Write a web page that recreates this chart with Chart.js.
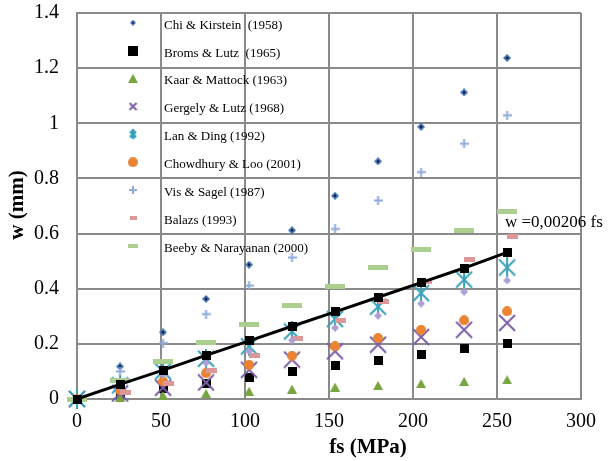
<!DOCTYPE html>
<html>
<head>
<meta charset="utf-8">
<script src="https://cdn.jsdelivr.net/npm/chart.js@4.4.1/dist/chart.umd.min.js"></script>
<style>
    html, body { margin: 0; padding: 0; background: #fff; }
    #wrap { width: 611px; height: 461px; }
</style>
</head>
<body>
<div id="wrap"><canvas id="crackChart" width="611" height="461"></canvas></div>
<script>
// Steel stress fs (MPa) where the predictions were evaluated
const fsValues = [0, 25.6, 51.2, 76.8, 102.4, 128, 153.6, 179.2, 204.8, 230.4, 256];
const balazsFs = [28.6, 54.2, 79.8, 105.4, 131, 156.6, 182.2, 207.8, 233.4, 259];

// Crack width w (mm)
const chiKirstein = [0, 0.118, 0.242, 0.363, 0.487, 0.612, 0.737, 0.862, 0.987, 1.112, 1.237];
const bromsLutz   = [0, 0.018, 0.037, 0.058, 0.078, 0.1, 0.121, 0.14, 0.161, 0.182, 0.202];
const kaarMattock = [0, 0.007, 0.013, 0.02, 0.028, 0.036, 0.043, 0.049, 0.056, 0.064, 0.07];
const gergelyLutz = [0, 0.02, 0.041, 0.06, 0.106, 0.143, 0.173, 0.197, 0.225, 0.251, 0.276];
const lanDing     = [0, 0.05, 0.1, 0.146, 0.191, 0.245, 0.29, 0.335, 0.384, 0.433, 0.477];
const chowdhury   = [0, 0.031, 0.064, 0.094, 0.124, 0.157, 0.191, 0.221, 0.251, 0.285, 0.318];
const visSagel    = [0, 0.1, 0.203, 0.308, 0.411, 0.513, 0.617, 0.72, 0.823, 0.926, 1.029];
const balazs      = [0.023, 0.058, 0.104, 0.157, 0.218, 0.285, 0.354, 0.427, 0.505, 0.59];
const beeby       = [0, 0.068, 0.136, 0.204, 0.272, 0.34, 0.408, 0.476, 0.544, 0.612, 0.679];
const otherModel  = [0, 0.044, 0.088, 0.131, 0.173, 0.213, 0.258, 0.302, 0.346, 0.389, 0.43];
const fitted      = [0, 0.053, 0.105, 0.158, 0.211, 0.264, 0.316, 0.369, 0.422, 0.475, 0.532];

const seriesLabels = [
    'Chi & Kirstein  (1958)', 'Broms & Lutz  (1965)', 'Kaar & Mattock (1963)',
    'Gergely & Lutz (1968)', 'Lan & Ding (1992)', 'Chowdhury & Loo (2001)',
    'Vis & Sagel (1987)', 'Balazs (1993)', 'Beeby & Narayanan (2000)'
];
const yTicks = [0, 0.2, 0.4, 0.6, 0.8, 1, 1.2, 1.4];
const fitLabel = 'w =0,00206 fs';

const FONT = '"Liberation Serif", "Times New Roman", serif';
const GRID = '#8a8a8a';

// Marker images (Excel style)
function marker(w, h, draw) {
    const c = document.createElement('canvas');
    c.width = w; c.height = h;
    draw(c.getContext('2d'), w, h);
    return c;
}
function diamond(s, fill, dot) {
    return marker(s, s, (ctx) => {
        ctx.fillStyle = fill;
        ctx.beginPath();
        ctx.moveTo(s / 2, 0); ctx.lineTo(s, s / 2); ctx.lineTo(s / 2, s); ctx.lineTo(0, s / 2);
        ctx.closePath(); ctx.fill();
        if (dot) {
            ctx.fillStyle = dot;
            ctx.beginPath(); ctx.arc(s / 2, s / 2, s / 7, 0, Math.PI * 2); ctx.fill();
        }
    });
}
function square(s, fill) {
    return marker(s, s, (ctx) => { ctx.fillStyle = fill; ctx.fillRect(0, 0, s, s); });
}
function triangle(w, h, fill) {
    return marker(w, h, (ctx) => {
        ctx.fillStyle = fill;
        ctx.beginPath(); ctx.moveTo(w / 2, 0); ctx.lineTo(w, h); ctx.lineTo(0, h); ctx.closePath(); ctx.fill();
    });
}
function cross(s, color, lw) {
    return marker(s, s, (ctx) => {
        ctx.strokeStyle = color; ctx.lineWidth = lw;
        ctx.beginPath();
        ctx.moveTo(1, 1); ctx.lineTo(s - 1, s - 1);
        ctx.moveTo(s - 1, 1); ctx.lineTo(1, s - 1);
        ctx.stroke();
    });
}
function asterisk(s, color, lw) {
    return marker(s, s + 2, (ctx) => {
        ctx.strokeStyle = color; ctx.lineWidth = lw;
        ctx.beginPath();
        ctx.moveTo(1, 2); ctx.lineTo(s - 1, s);
        ctx.moveTo(s - 1, 2); ctx.lineTo(1, s);
        ctx.moveTo(s / 2, 0); ctx.lineTo(s / 2, s + 2);
        ctx.stroke();
    });
}
function circle(s, fill) {
    return marker(s, s, (ctx) => {
        ctx.fillStyle = fill;
        ctx.beginPath(); ctx.arc(s / 2, s / 2, s / 2, 0, Math.PI * 2); ctx.fill();
    });
}
function plus(s, color, lw) {
    return marker(s, s, (ctx) => {
        ctx.strokeStyle = color; ctx.lineWidth = lw;
        ctx.beginPath();
        ctx.moveTo(0, s / 2); ctx.lineTo(s, s / 2);
        ctx.moveTo(s / 2, 0); ctx.lineTo(s / 2, s);
        ctx.stroke();
    });
}
function dash(w, h, fill) {
    return marker(w, h, (ctx) => { ctx.fillStyle = fill; ctx.fillRect(0, 0, w, h); });
}

const colors = {
    chi: '#3f6fb6', broms: '#000000', kaar: '#78a540', gergely: '#7d5fa8',
    lan: '#38a2bb', chow: '#ea8433', vis: '#8eaadc', balazs: '#dc9898',
    beeby: '#aacf8f', other: '#ad9fd3'
};

const chartMarkers = [
    diamond(8, colors.chi, '#111'), square(9, colors.broms), triangle(10, 9, colors.kaar),
    cross(18, colors.gergely, 2), asterisk(18, colors.lan, 2), circle(10, colors.chow),
    plus(9, colors.vis, 2), dash(11, 5, colors.balazs), dash(20, 5, colors.beeby)
];
const legendMarkers = [
    diamond(6, colors.chi, '#111'), square(10, colors.broms), triangle(10, 9, colors.kaar),
    cross(9, colors.gergely, 2), asterisk(8, colors.lan, 2.5), circle(10, colors.chow),
    plus(8, colors.vis, 2), dash(7, 4, colors.balazs), dash(10, 4, colors.beeby)
];

function points(xs, ys) {
    return ys.map((y, i) => ({ x: xs[i], y: y }));
}

const seriesValues = [chiKirstein, bromsLutz, kaarMattock, gergelyLutz, lanDing, chowdhury, visSagel, balazs, beeby];

const datasets = seriesValues.map((vals, i) => ({
    label: seriesLabels[i],
    data: points(i === 7 ? balazsFs : fsValues, vals),
    pointStyle: chartMarkers[i],
    pointRadius: 5,
    showLine: false,
    clip: false,
    order: 20 - i
}));

datasets.push({
    label: 'other',
    data: points(fsValues, otherModel),
    pointStyle: diamond(8, colors.other),
    pointRadius: 5,
    showLine: false,
    clip: false,
    order: 5
});

datasets.push({
    label: 'fit',
    data: points(fsValues, fitted),
    pointStyle: square(9, '#000'),
    pointRadius: 5,
    showLine: true,
    borderColor: '#000',
    borderWidth: 3,
    clip: false,
    order: 0
});

// Legend inside the plot, axis titles and fit label
const overlayPlugin = {
    id: 'overlay',
    afterDraw(chart) {
        const ctx = chart.ctx;
        ctx.save();
        ctx.fillStyle = '#000';

        // legend
        ctx.font = '13px ' + FONT;
        ctx.textBaseline = 'middle';
        ctx.textAlign = 'left';
        seriesLabels.forEach((label, i) => {
            const y = 22.7 + i * 27.9;
            const m = legendMarkers[i];
            ctx.drawImage(m, 133 - m.width / 2, y - m.height / 2);
            ctx.fillText(label, 164, y + 2.5);
        });

        // fit equation
        ctx.font = '17px ' + FONT;
        ctx.fillText(fitLabel, 505, 223);

        // axis titles
        ctx.font = 'bold 21px ' + FONT;
        ctx.textAlign = 'center';
        ctx.fillText('fs (MPa)', 368, 448);
        ctx.translate(18, 205);
        ctx.rotate(-Math.PI / 2);
        ctx.fillText('w (mm)', 0, 0);
        ctx.restore();
    }
};

new Chart(document.getElementById('crackChart'), {
    type: 'scatter',
    data: { datasets: datasets },
    options: {
        responsive: false,
        animation: false,
        layout: { padding: { top: 13, right: 30, left: 0, bottom: 0 } },
        plugins: {
            legend: { display: false },
            tooltip: { enabled: false }
        },
        scales: {
            x: {
                type: 'linear',
                min: 0,
                max: 300,
                afterFit: (scale) => {
                    scale.height = 62;
                    scale.paddingLeft = 0;
                    scale.paddingRight = 0;
                },
                ticks: {
                    stepSize: 50,
                    color: '#000',
                    font: { family: FONT, size: 20 },
                    padding: 11,
                    maxRotation: 0
                },
                grid: { color: GRID, lineWidth: 2, drawTicks: false },
                border: { color: GRID, width: 2 }
            },
            y: {
                type: 'linear',
                min: 0,
                max: 1.4,
                afterFit: (scale) => {
                    scale.width = 77;
                    scale.paddingTop = 0;
                    scale.paddingBottom = 0;
                },
                afterBuildTicks: (scale) => { scale.ticks = yTicks.map(v => ({ value: v })); },
                ticks: {
                    color: '#000',
                    font: { family: FONT, size: 20 },
                    padding: 18,
                    callback: (v) => String(Math.round(v * 10) / 10)
                },
                grid: { color: GRID, lineWidth: 2, drawTicks: false },
                border: { color: GRID, width: 2 }
            }
        }
    },
    plugins: [overlayPlugin]
});
</script>
</body>
</html>
